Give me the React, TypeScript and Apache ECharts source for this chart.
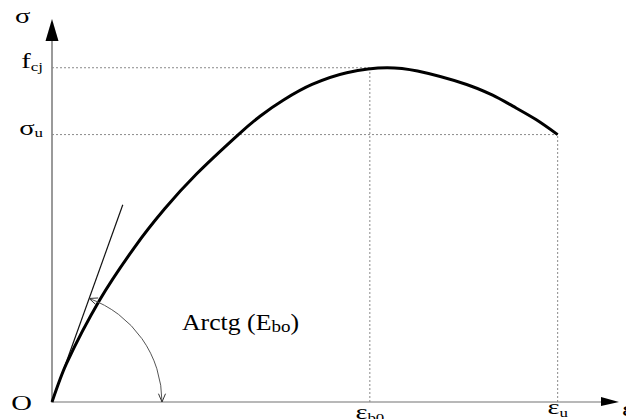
import React, { useEffect, useRef } from 'react';
import * as echarts from 'echarts';

// Stress–strain law of concrete (normalised: σ / f_cj against strain)
const strain = [0, 0.1, 0.33, 0.57, 0.78, 1.0, 1.29, 1.44, 1.6, 1.8, 2.04, 2.32, 2.53, 2.87, 3.05, 3.19, 3.35, 3.5];
const stress = [0, 0.115, 0.305, 0.462, 0.578, 0.682, 0.8, 0.855, 0.903, 0.95, 0.985, 1.0, 0.99, 0.95, 0.918, 0.885, 0.845, 0.8];

// characteristic points
const EPS_B0 = 2.2;
const EPS_U = 3.5;
const F_CJ = 1.0;
const SIGMA_U = 0.8;

// initial tangent (modulus E_bo)
const tangentStart = [0, 0];
const tangentEnd = [0.49, 0.59];

// anchor of the angle annotation
const arcLabelAt = [0.9, 0.24];

// axis extents
const X_MAX = 3.8;
const Y_MAX = 1.08;

// label texts
const yLabels = [
  { value: F_CJ, text: '{m|f}{s|cj}' },
  { value: SIGMA_U, text: '{m|σ}{s|u}' },
];
const xLabels = [
  { value: EPS_B0, text: '{m|ε}{s|b0}', dy: 10 },
  { value: EPS_U, text: '{m|ε}{s|u}', dy: 5 },
];
const arcLabel = '{m|Arctg (E}{s|bo}{m|)}';

const SERIF = '"Liberation Serif", "Times New Roman", serif';
const STRETCH = 1.3;

const symRich = {
  m: { fontFamily: SERIF, fontSize: 22, fill: '#000', lineHeight: 26 },
  s: { fontFamily: SERIF, fontSize: 13, fill: '#000', lineHeight: 26, padding: [11, 0, 0, 0] },
};

const symText = (x: number, y: number, text: string, align: string) => ({
  type: 'text',
  x,
  y,
  scaleX: STRETCH,
  style: { text, rich: symRich, align, verticalAlign: 'middle' },
});

export default function App() {
  const ref = useRef<HTMLDivElement>(null);

  useEffect(() => {
    if (!ref.current) return;
    const chart = echarts.init(ref.current, undefined, { renderer: 'svg' });

    const guide = (pts: number[][]) => ({
      type: 'line',
      data: pts,
      symbol: 'none',
      silent: true,
      z: 1,
      lineStyle: { color: '#8a8a8a', width: 1, type: [2, 2] },
    });

    chart.setOption({
      animation: false,
      backgroundColor: '#fff',
      grid: { left: 52, right: 25, top: 41, bottom: 17, containLabel: false, outerBoundsMode: 'none' },
      xAxis: {
        type: 'value',
        min: 0,
        max: X_MAX,
        splitLine: { show: false },
        axisTick: { show: false },
        axisLabel: { show: false },
        axisLine: { show: true, onZero: false, lineStyle: { color: '#b8b8b8', width: 2 } },
      },
      yAxis: {
        type: 'value',
        min: 0,
        max: Y_MAX,
        splitLine: { show: false },
        axisTick: { show: false },
        axisLabel: { show: false },
        axisLine: { show: true, onZero: false, lineStyle: { color: '#9a9a9a', width: 2 } },
      },
      series: [
        guide([[0, F_CJ], [EPS_B0, F_CJ]]),
        guide([[EPS_B0, 0], [EPS_B0, F_CJ]]),
        guide([[0, SIGMA_U], [EPS_U, SIGMA_U]]),
        guide([[EPS_U, 0], [EPS_U, SIGMA_U]]),
        {
          type: 'line',
          data: [tangentStart, tangentEnd],
          symbol: 'none',
          z: 2,
          lineStyle: { color: '#111', width: 1.2 },
        },
        {
          type: 'line',
          data: strain.map((x, i) => [x, stress[i]]),
          symbol: 'none',
          smooth: 0.3,
          z: 3,
          lineStyle: { color: '#000', width: 3 },
        },
        {
          type: 'custom',
          clip: false,
          z: 4,
          data: [[0, 0]],
          renderItem: (_params: any, api: any) => {
            const o = api.coord([0, 0]);
            const t = api.coord(tangentEnd);
            const ang = Math.atan2(t[1] - o[1], t[0] - o[0]);
            const r = 110;
            const p1 = [o[0] + r * Math.cos(ang), o[1] + r * Math.sin(ang)];
            const p2 = [o[0] + r, o[1]];
            const chevron = (tip: number[], dir: number[], len: number, spread: number) => {
              const back = Math.atan2(-dir[1], -dir[0]);
              return [
                [tip[0] + len * Math.cos(back + spread), tip[1] + len * Math.sin(back + spread)],
                tip,
                [tip[0] + len * Math.cos(back - spread), tip[1] + len * Math.sin(back - spread)],
              ];
            };
            const d1 = [Math.sin(ang), -Math.cos(ang)];
            const xEnd = api.coord([X_MAX, 0]);
            const yEnd = api.coord([0, Y_MAX]);
            const lab = api.coord(arcLabelAt);

            const texts: any[] = [];
            yLabels.forEach((l) => {
              const p = api.coord([0, l.value]);
              texts.push(symText(p[0] - 9, p[1] - 7, l.text, 'right'));
            });
            xLabels.forEach((l) => {
              const p = api.coord([l.value, 0]);
              texts.push(symText(p[0], p[1] + l.dy, l.text, 'center'));
            });
            texts.push(symText(yEnd[0] - 37, yEnd[1] - 25, '{m|σ}', 'left'));
            texts.push(symText(o[0] - 20, o[1] + 1, '{m|O}', 'right'));
            texts.push(symText(xEnd[0] + 21, xEnd[1] + 7, '{m|ε}', 'left'));

            return {
              type: 'group',
              children: [
                {
                  type: 'arc',
                  shape: { cx: o[0], cy: o[1], r, startAngle: ang, endAngle: 0, clockwise: true },
                  style: { stroke: '#555', lineWidth: 1, fill: 'none' },
                },
                {
                  type: 'polyline',
                  shape: { points: chevron(p1, d1, 9, 0.4) },
                  style: { stroke: '#333', lineWidth: 1, fill: 'none' },
                },
                {
                  type: 'polyline',
                  shape: { points: chevron(p2, [0, 1], 9, 0.4) },
                  style: { stroke: '#333', lineWidth: 1, fill: 'none' },
                },
                {
                  type: 'polygon',
                  shape: { points: [[xEnd[0], xEnd[1] - 5], [xEnd[0] + 18, xEnd[1]], [xEnd[0], xEnd[1] + 4]] },
                  style: { fill: '#000' },
                },
                {
                  type: 'polygon',
                  shape: { points: [[yEnd[0] - 6.5, yEnd[1]], [yEnd[0], yEnd[1] - 22], [yEnd[0] + 6.5, yEnd[1]]] },
                  style: { fill: '#000' },
                },
                {
                  type: 'text',
                  x: lab[0],
                  y: lab[1],
                  scaleX: 1.12,
                  style: {
                    text: arcLabel,
                    rich: {
                      m: { fontFamily: SERIF, fontSize: 23, fill: '#000', lineHeight: 26 },
                      s: { fontFamily: SERIF, fontSize: 17, fill: '#000', lineHeight: 26, padding: [10, 0, 0, 0] },
                    },
                    verticalAlign: 'middle',
                    align: 'left',
                  },
                },
                ...texts,
              ],
            };
          },
        },
      ],
    });

    return () => chart.dispose();
  }, []);

  return (
    <div
      ref={ref}
      style={{ position: 'fixed', left: 0, top: 0, width: 626, height: 419, background: '#fff' }}
    />
  );
}
